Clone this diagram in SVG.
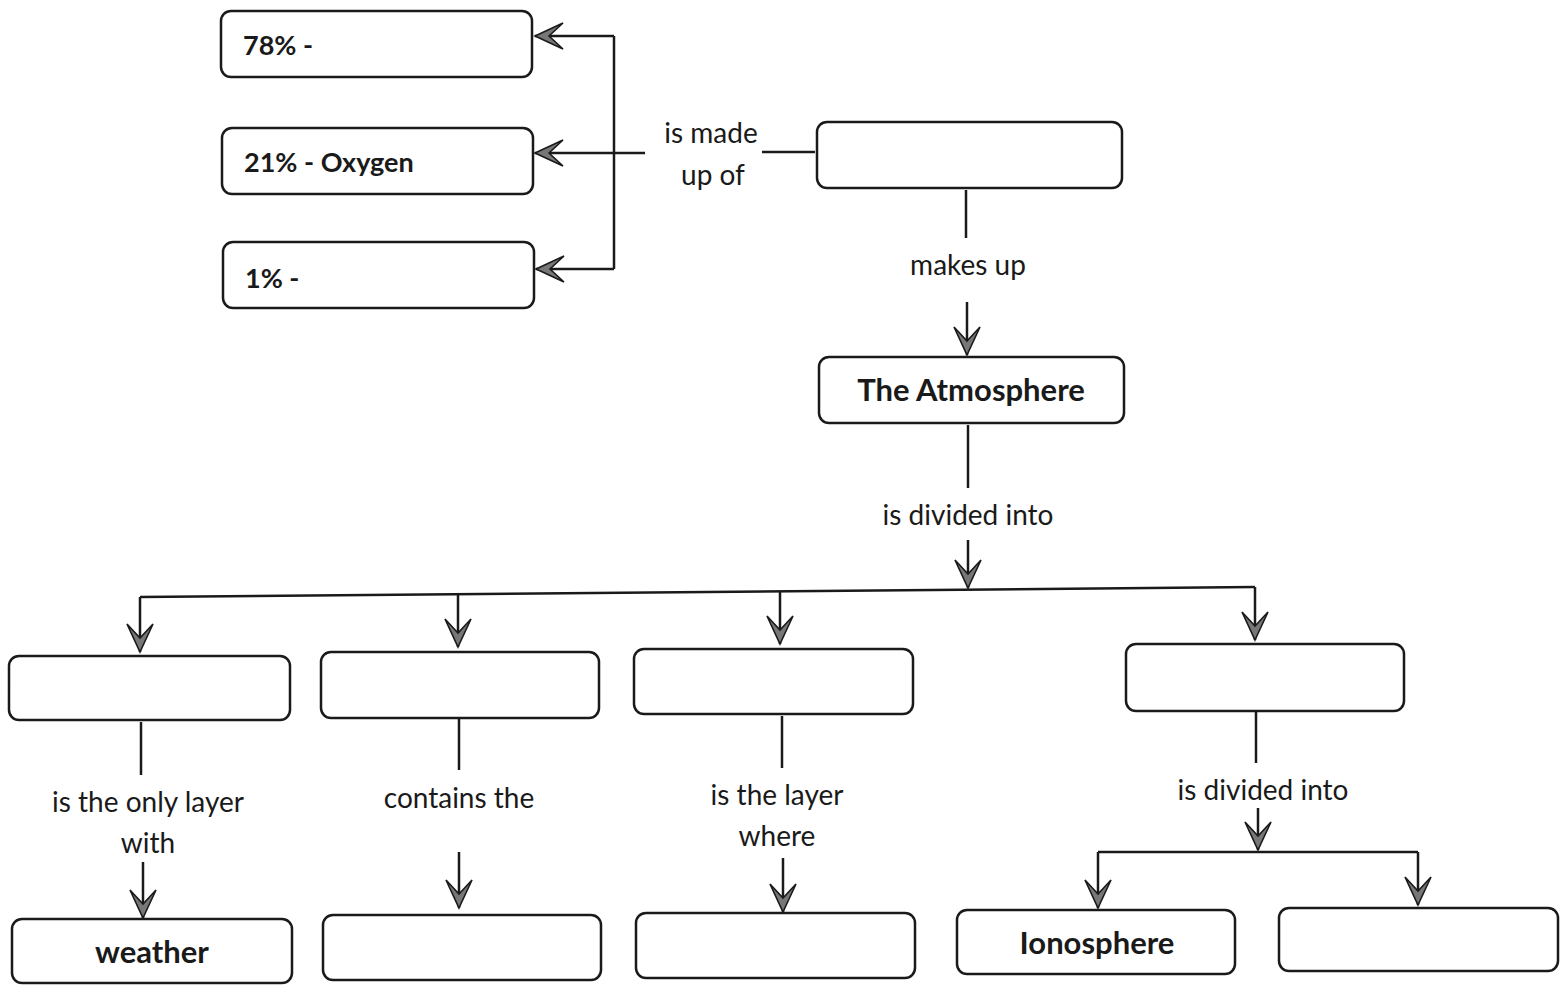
<svg xmlns="http://www.w3.org/2000/svg" width="1565" height="986" viewBox="0 0 1565 986">
<style>
.box{fill:#fff;stroke:#1a1a1a;stroke-width:2.5}
.ln{fill:none;stroke:#1a1a1a;stroke-width:2.5}
.lbl{font-family:Lato,"Open Sans","Liberation Sans",sans-serif;font-size:28px;fill:#1a1a1a;text-anchor:middle}
.nt{font-family:Lato,"Open Sans","Liberation Sans",sans-serif;font-size:27px;font-weight:bold;fill:#1a1a1a}
.big{font-size:31px;text-anchor:middle}
</style>
<defs>
<marker id="ah" markerUnits="userSpaceOnUse" markerWidth="32" markerHeight="32" viewBox="-30 -16 32 32" refX="0" refY="0" orient="auto">
<path d="M0,0 L-28,-13 L-14,0 L-28,13 Z" fill="#777" stroke="#1a1a1a" stroke-width="1.6" stroke-linejoin="miter"/>
</marker>
</defs>
<rect width="1565" height="986" fill="#fff"/>
<g id="connectors">
<path class="ln" d="M614,36 V269"/>
<path class="ln" d="M614,36 H535" marker-end="url(#ah)"/>
<path class="ln" d="M645,153 H535" marker-end="url(#ah)"/>
<path class="ln" d="M614,269 H536" marker-end="url(#ah)"/>
<path class="ln" d="M762,152 H815"/>
<text class="lbl" x="711" y="143">is made</text>
<text class="lbl" x="713" y="185">up of</text>
<path class="ln" d="M966,190 V238"/>
<text class="lbl" x="968" y="275">makes up</text>
<path class="ln" d="M967,302 V355" marker-end="url(#ah)"/>
<path class="ln" d="M968,425 V488"/>
<text class="lbl" x="968" y="525">is divided into</text>
<path class="ln" d="M968,540 V588" marker-end="url(#ah)"/>
<path class="ln" d="M140,597 L1255,587"/>
<path class="ln" d="M140,597 V652" marker-end="url(#ah)"/>
<path class="ln" d="M458,594 V647" marker-end="url(#ah)"/>
<path class="ln" d="M780,591 V644" marker-end="url(#ah)"/>
<path class="ln" d="M1255,587 V640" marker-end="url(#ah)"/>
<path class="ln" d="M141,722 V775"/>
<text class="lbl" x="148" y="812">is the only layer</text>
<text class="lbl" x="148" y="853">with</text>
<path class="ln" d="M143,862 V918" marker-end="url(#ah)"/>
<path class="ln" d="M459,719 V770"/>
<text class="lbl" x="459" y="808">contains the</text>
<path class="ln" d="M459,852 V908" marker-end="url(#ah)"/>
<path class="ln" d="M782,716 V768"/>
<text class="lbl" x="777" y="805">is the layer</text>
<text class="lbl" x="777" y="846">where</text>
<path class="ln" d="M783,858 V912" marker-end="url(#ah)"/>
<path class="ln" d="M1256,712 V763"/>
<text class="lbl" x="1263" y="800">is divided into</text>
<path class="ln" d="M1258,808 V850" marker-end="url(#ah)"/>
<path class="ln" d="M1098,852 H1418"/>
<path class="ln" d="M1098,852 V908" marker-end="url(#ah)"/>
<path class="ln" d="M1418,852 V905" marker-end="url(#ah)"/>
</g>
<g id="n78"><rect class="box" x="221" y="11" width="311" height="66" rx="10"/><text class="nt" x="243" y="55">78% -</text></g>
<g id="n21"><rect class="box" x="222" y="128" width="311" height="66" rx="10"/><text class="nt" x="244" y="172">21% - Oxygen</text></g>
<g id="n1"><rect class="box" x="223" y="242" width="311" height="66" rx="10"/><text class="nt" x="245" y="288">1% -</text></g>
<g id="air"><rect class="box" x="817" y="122" width="305" height="66" rx="10"/></g>
<g id="atm"><rect class="box" x="819" y="357" width="305" height="66" rx="10"/><text class="nt big" x="971" y="401">The Atmosphere</text></g>
<g id="l1"><rect class="box" x="9" y="656" width="281" height="64" rx="10"/></g>
<g id="l2"><rect class="box" x="321" y="652" width="278" height="66" rx="10"/></g>
<g id="l3"><rect class="box" x="634" y="649" width="279" height="65" rx="10"/></g>
<g id="l4"><rect class="box" x="1126" y="644" width="278" height="67" rx="10"/></g>
<g id="weather"><rect class="box" x="12" y="919" width="280" height="64" rx="10"/><text class="nt big" x="152" y="963">weather</text></g>
<g id="b2"><rect class="box" x="323" y="915" width="278" height="65" rx="10"/></g>
<g id="b3"><rect class="box" x="636" y="913" width="279" height="65" rx="10"/></g>
<g id="iono"><rect class="box" x="957" y="910" width="278" height="64" rx="10"/><text class="nt big" x="1097" y="954">Ionosphere</text></g>
<g id="b5"><rect class="box" x="1279" y="908" width="279" height="63" rx="10"/></g>
</svg>
